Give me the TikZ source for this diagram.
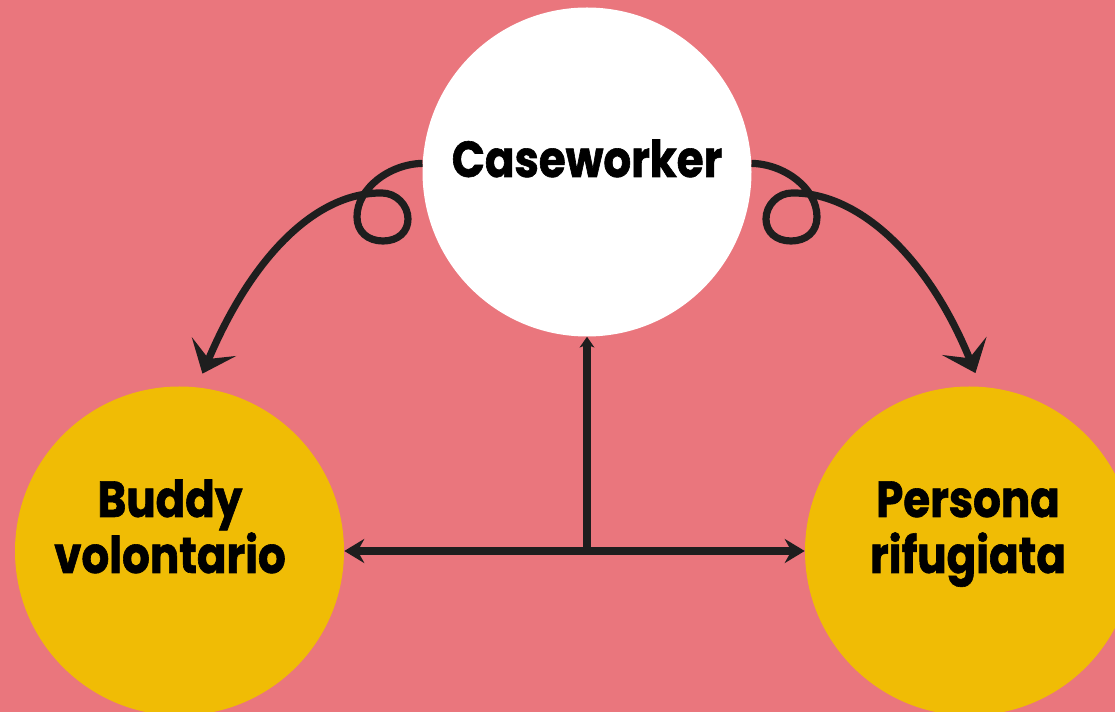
\documentclass[tikz,border=0pt]{standalone}
\usepackage{fontspec}
\setmainfont{Poppins}[FakeStretch=0.86,BoldFeatures={FakeBold=1.2}]
\usetikzlibrary{arrows.meta}
\definecolor{bgpink}{RGB}{234,118,125}
\definecolor{discyellow}{RGB}{240,188,5}
\definecolor{ink}{RGB}{30,30,30}
\begin{document}
\begin{tikzpicture}[x=0.75pt,y=-0.75pt,
  disc/.style={circle,minimum size=246.75pt,inner sep=0pt},
  label/.style={font=\fontsize{38}{42}\selectfont\bfseries,align=center,text=black},
  link/.style={draw=ink,line width=5.4pt},
  bigtip/.style={-{Stealth[length=22pt,width=36pt,inset=10pt]}},
  sidetip/.style={{Stealth[length=15pt,width=18pt,inset=5pt]}-{Stealth[length=15pt,width=18pt,inset=5pt]}},
  uptip/.style={-{Stealth[length=8pt,width=11pt,inset=2pt]}}]
  % page and background
  \fill[bgpink] (0,0) rectangle (1115,712);
  \useasboundingbox (0,0) rectangle (1115,712);

  % the three discs
  \node[disc,fill=white] (cw) at (587,172) {};
  \node[disc,fill=discyellow] (bv) at (179.5,551) {};
  \node[disc,fill=discyellow] (pr) at (969.5,551) {};

  % labels (base anchor sits on the last line)
  \node[label,anchor=base] (cwlabel) at (587,177) {Caseworker};
  \node[label,anchor=base] (bvlabel) at (170,573) {Buddy\\volontario};
  \node[label,anchor=base] (prlabel) at (968,573) {Persona\\rifugiata};

  % looping arrow to the left disc
  \draw[link,bigtip,shorten >=11pt]
    (cw.177) .. controls (390,164) and (357,188) .. (357,217)
    .. controls (357,232) and (368,241) .. (383,241)
    .. controls (398,241) and (408,232) .. (408,219)
    .. controls (408,205) and (396,193) .. (382,193)
    .. controls (320,192) and (255,250) .. (bv.84);

  % looping arrow to the right disc
  \draw[link,bigtip,shorten >=11pt]
    (cw.3) .. controls (784,164) and (817,188) .. (817,217)
    .. controls (817,232) and (806,241) .. (791,241)
    .. controls (776,241) and (766,232) .. (766,219)
    .. controls (766,205) and (778,193) .. (792,193)
    .. controls (854,192) and (925,250) .. (pr.86);

  % horizontal two-way link and the stem up to the top disc
  \draw[link,sidetip] (bv.east) -- (pr.west);
  \draw[link,uptip] (cw.south |- bv.east) -- (cw.south);
\end{tikzpicture}
\end{document}
